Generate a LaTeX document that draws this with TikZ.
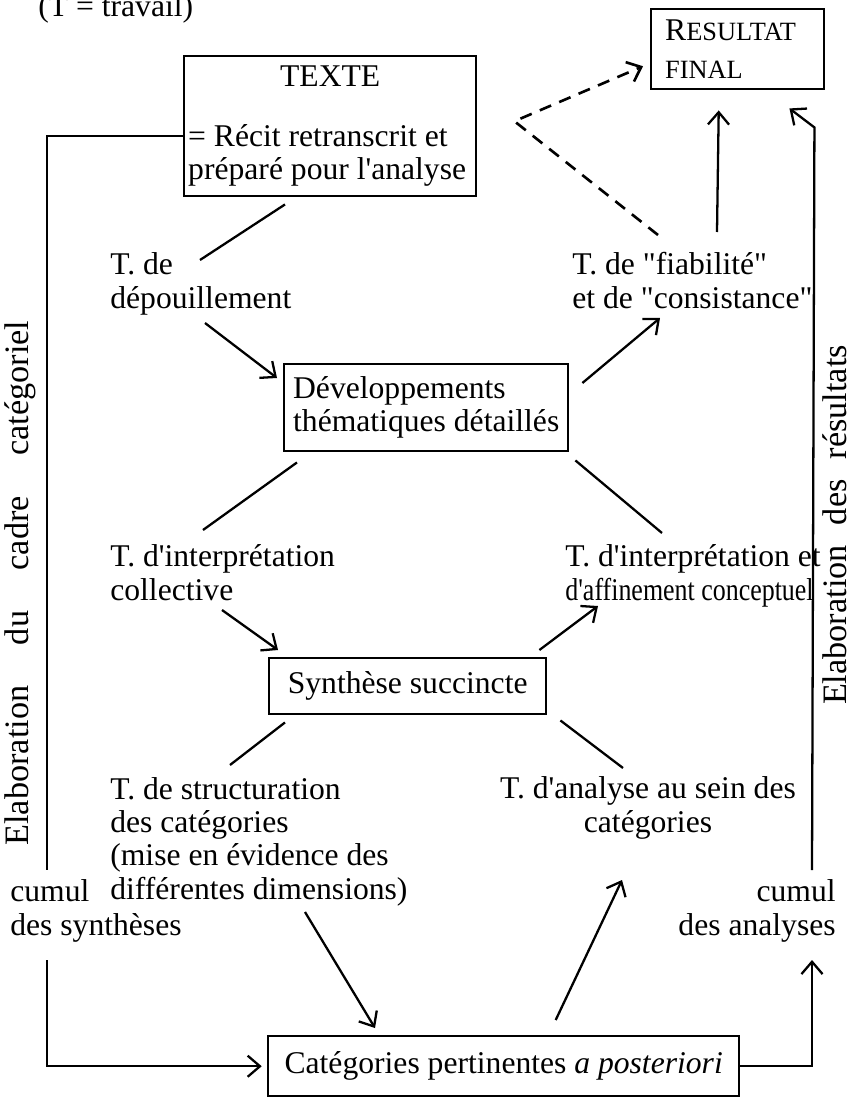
\documentclass[tikz,border=0pt]{standalone}
\usepackage{fontspec}
\setmainfont{Liberation Serif}[Ligatures=TeXOff]
\usepackage{tikz}
\usetikzlibrary{arrows.meta,calc}
\newcommand{\Sc}[1]{{\fontsize{15}{15}\selectfont #1}}

\begin{document}
\begin{tikzpicture}[x=0.02cm, y=-0.02cm,
    font=\fontsize{18}{18.8}\selectfont,
    box/.style={draw, line width=1.4pt, inner sep=0pt},
    lbl/.style={inner sep=0pt, align=left, anchor=base west},
    side/.style={rotate=90, inner sep=0pt, font=\fontsize{19.5}{20}\selectfont},
    link/.style={line width=1.3pt},
    arr/.style={line width=1.3pt, -{Straight Barb[length=7pt, width=12pt]}}]
  \useasboundingbox (0,0) rectangle (853,1105);

  \node[anchor=base west, inner sep=0pt] (travail) at (38,17) {(T = travail)};

  \node[box, anchor=north west, text width=5.68cm, inner xsep=0.08cm, minimum height=2.8cm, align=flush left] (texte) at (183,55)
    {\makebox[5.68cm]{TEXTE}\\[15pt]= Récit retranscrit et\\préparé pour l'analyse};
  \node[box, anchor=north west, minimum width=3.46cm, minimum height=1.6cm, text width=2.9cm, inner xsep=0.28cm, align=flush left] (resultat) at (650,8)
    {R\Sc{ESULTAT}\\[3pt]\Sc{FINAL}};
  \node[box, anchor=north west, minimum width=5.68cm, minimum height=1.74cm, align=left] (dev) at (283,363)
    {Développements\\thématiques détaillés};
  \node[box, anchor=north west, minimum width=5.54cm, minimum height=1.12cm] (synth) at (268,657) {Synthèse succincte};
  \node[box, anchor=north west, minimum width=9.42cm, minimum height=1.2cm] (categ) at (267,1035)
    {Catégories pertinentes \textit{a posteriori}};

  \node[lbl] (dep) at (110,308) {T. de\\dépouillement};
  \node[lbl] (fiab) at (572,308) {T. de "fiabilité"\\et de "consistance"};
  \node[lbl] (interp) at (110,600) {T. d'interprétation\\collective};
  \node[lbl] (affin) at (565,600) {T. d'interprétation et\\\scalebox{0.82}[1]{d'affinement conceptuel}};
  \node[lbl] (struct) at (110,899) {T. de structuration\\des catégories\\(mise en évidence des\\différentes dimensions)};
  \node[inner sep=0pt, align=center, anchor=base] (analyse) at (648,832) {T. d'analyse au sein des\\catégories};
  \node[lbl] (cumsyn) at (10,935) {cumul\\des synthèses};
  \node[inner sep=0pt, align=right, anchor=base east] (cumana) at (836,935) {cumul\\des analyses};
  \node[side] (elabcadre) at (20,583) {\makebox[10.5cm][s]{Elaboration du cadre catégoriel}};
  \node[side] (elabres) at (835,525) {\makebox[7.2cm][s]{Elaboration des résultats}};

  % boucles laterales
  \draw[link] ($(texte.west)+(0,10)$) -| ($(cumsyn.base west)+(37,-65)$);
  \draw[arr] ($(cumsyn.base west)+(37,25)$) |- ([xshift=-3pt]categ.west);
  \draw[arr] (categ.east) -| ($(cumana.base east)+(-24,25)$);
  \draw[arr] ($(cumana.base east)+(-24,-65)$) -- ($(resultat.south east)+(-11,37)$) -- ($(resultat.south east)+(-36,18)$);

  \coordinate (apex) at ($(texte.east)+(37,-5)$);
  \draw[arr, line width=1.5pt, dash pattern=on 7pt off 5pt] ($(fiab.base west)+(86,-73)$) -- (apex) -- ($(resultat.west)+(-7,17)$);
  \draw[arr] ($(fiab.base west)+(145,-76)$) -- ($(resultat.south)+(-19,20)$);

  % chaine centrale
  \draw[link] ($(texte.south west)+(102,7)$) -- ($(dep.base west)+(90,-48)$);
  \draw[arr] ($(dep.base west)+(95,15)$) -- ($(dev.north west)+(-6,15)$);
  \draw[arr] ($(dev.north east)+(13,20)$) -- ($(fiab.base west)+(88,10)$);
  \draw[link] ($(dev.south west)+(14,10)$) -- ($(interp.base west)+(93,-70)$);
  \draw[link] ($(dev.south east)+(6,8)$) -- ($(affin.base west)+(97,-67)$);
  \draw[arr] ($(interp.base west)+(112,10)$) -- ($(synth.north west)+(10,-7)$);
  \draw[arr] ($(synth.north east)+(-8,-7)$) -- ($(affin.base west)+(33,6)$);
  \draw[link] ($(synth.south west)+(17,7)$) -- ($(struct.base west)+(120,-134)$);
  \draw[link] ($(synth.south east)+(13,5)$) -- ($(analyse.base)+(-25,-64)$);
  \draw[arr] ($(struct.base west)+(195,13)$) -- ($(categ.north west)+(108,-7)$);
  \draw[arr] ($(categ.north)+(52,-15)$) -- ($(analyse.base)+(-26,48)$);
\end{tikzpicture}
\end{document}
